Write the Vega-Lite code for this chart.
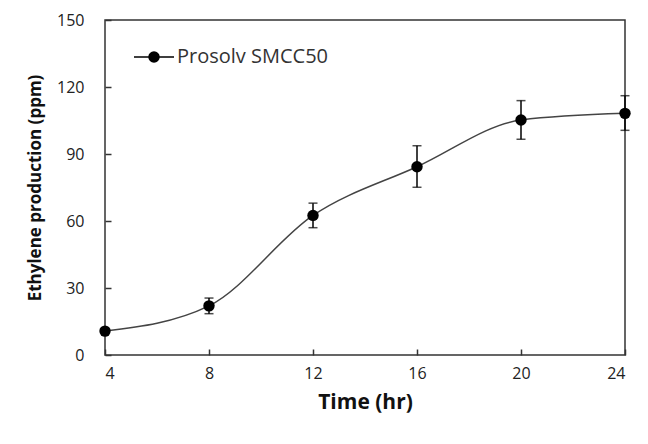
{
  "$schema": "https://vega.github.io/schema/vega-lite/v6.json",
  "width": 520,
  "height": 335,
  "autosize": "none",
  "padding": {"left": 105, "top": 20, "right": 23, "bottom": 89},
  "background": "white",
  "config": {
    "view": {"stroke": "#333", "strokeWidth": 1.5},
    "font": "Open Sans",
    "axis": {"grid": false, "domain": false, "labelFontSize": 16, "labelColor": "#222", "titleColor": "#111", "titleFontWeight": "bold"}
  },
  "data": {"values": [
    {"time": 4, "eth": 10.7, "lo": 10.7, "hi": 10.7, "series": "Prosolv SMCC50"},
    {"time": 8, "eth": 22, "lo": 18.5, "hi": 25.5, "series": "Prosolv SMCC50"},
    {"time": 12, "eth": 62.5, "lo": 57, "hi": 68, "series": "Prosolv SMCC50"},
    {"time": 16, "eth": 84.3, "lo": 75.1, "hi": 93.7, "series": "Prosolv SMCC50"},
    {"time": 20, "eth": 105.2, "lo": 96.6, "hi": 113.9, "series": "Prosolv SMCC50"},
    {"time": 24, "eth": 108.2, "lo": 100.6, "hi": 116.1, "series": "Prosolv SMCC50"}
  ]},
  "layer": [
    {
      "mark": {"type": "line", "interpolate": "monotone", "stroke": "#444", "strokeWidth": 1.5},
      "encoding": {
        "x": {"field": "time", "type": "quantitative", "scale": {"domain": [4, 24], "nice": false},
          "axis": {"orient": "bottom", "zindex": 1, "values": [4, 8, 12, 16, 20, 24], "ticks": true, "tickSize": -6, "tickColor": "#333", "tickWidth": 1.5, "title": "Time (hr)", "titleFontSize": 21, "labelPadding": 16, "titlePadding": 10}},
        "y": {"field": "eth", "type": "quantitative", "scale": {"domain": [0, 150], "nice": false},
          "axis": {"orient": "left", "zindex": 1, "values": [0, 30, 60, 90, 120, 150], "ticks": true, "tickSize": -6, "tickColor": "#333", "tickWidth": 1.5, "title": "Ethylene production (ppm)", "titleFontSize": 17, "labelPadding": 27, "titlePadding": 12}}
      }
    },
    {
      "mark": {"type": "errorbar", "ticks": {"size": 9, "thickness": 1.5, "color": "black"}, "rule": {"strokeWidth": 1.5, "color": "black"}},
      "encoding": {
        "x": {"field": "time", "type": "quantitative"},
        "y": {"field": "lo", "type": "quantitative", "title": "Ethylene production (ppm)"},
        "y2": {"field": "hi"}
      }
    },
    {
      "mark": {"type": "point", "filled": true, "size": 130, "opacity": 1},
      "encoding": {
        "x": {"field": "time", "type": "quantitative"},
        "y": {"field": "eth", "type": "quantitative"},
        "color": {"field": "series", "type": "nominal", "scale": {"range": ["black"]},
          "legend": {"title": null, "orient": "none", "legendX": 28, "legendY": 16,
            "symbolType": "M-1,0H1M0.25,0A0.25,0.25,0,1,1,-0.25,0A0.25,0.25,0,1,1,0.25,0Z",
            "symbolSize": 1600, "symbolStrokeColor": "black", "symbolStrokeWidth": 1.5, "labelFontSize": 20, "labelColor": "#333", "labelOffset": 2,
            "encode": {"symbols": {"update": {"shape": {"value": "M-1,0H1M0.25,0A0.25,0.25,0,1,1,-0.25,0A0.25,0.25,0,1,1,0.25,0Z"}, "size": {"value": 1600}, "stroke": {"value": "black"}, "strokeOpacity": {"value": 1}, "opacity": {"value": 1}, "strokeWidth": {"value": 1.5}, "fill": {"value": "black"}}}}}}
      }
    }
  ]
}
